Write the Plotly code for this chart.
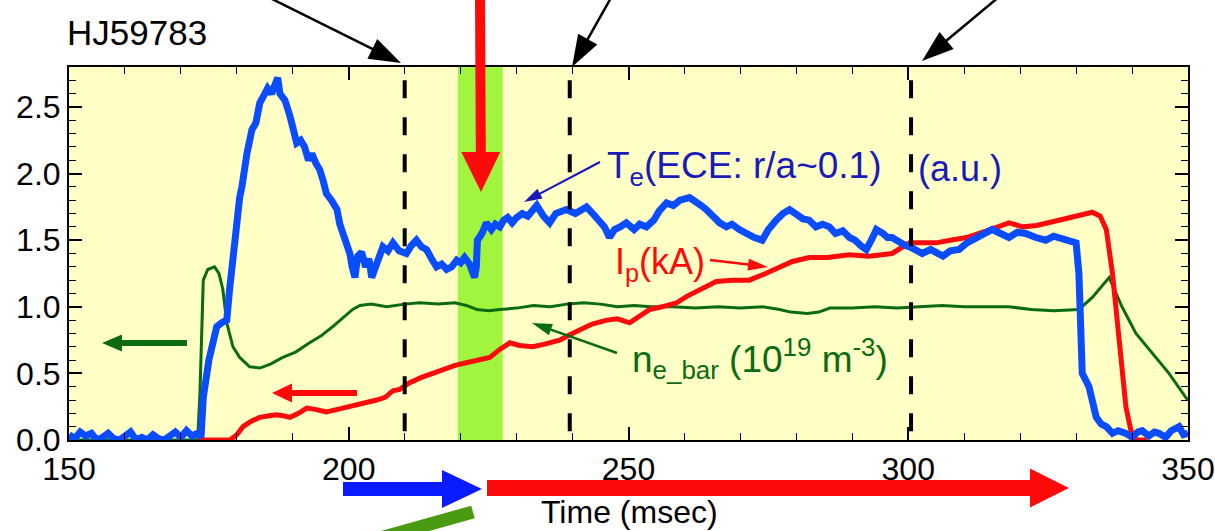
import plotly.graph_objects as go
import math

# ---------------- data ----------------
te_t = [150, 151, 152, 153, 154, 155, 156, 157, 158, 159, 160, 161, 162, 163, 164, 165, 166, 167, 168, 169,
        170, 171, 172, 173, 173.6, 174.0, 175.0, 175.7, 176.4, 177.3, 178.2, 178.7, 179.3, 179.8, 180.5, 180.9,
        181.8, 182.7, 183.4, 184.1, 185.0, 185.5, 186.2, 186.8, 187.3, 187.7, 188.6, 189.5, 190.1, 190.7, 191.4,
        192.1, 192.8, 193.4, 194.1, 194.8, 195.4, 196.0, 196.9, 197.9, 198.4, 199.0, 199.6, 200.2, 200.6, 201.1,
        201.6, 202.3, 203.0, 203.6, 204.1, 205.0, 206.1, 207.0, 207.9, 209.0, 210.3, 211.2, 212.1, 213.0, 213.9,
        214.8, 215.7, 216.6, 217.5, 218.4, 219.3, 220.0, 220.7, 221.6, 222.5, 222.8, 223.0, 223.8, 224.6, 225.5,
        226.2, 227.0, 227.7, 228.4, 229.2, 230.0, 231.0, 232.0, 233.6, 234.8, 235.9, 237.0, 238.9, 240.5, 242.5,
        243.6, 244.8, 245.7, 246.6, 247.5, 248.5, 249.6, 251.0, 252.0, 253.2, 254.5, 255.5, 256.8, 258.0, 259.2,
        260.9, 262.0, 263.0, 263.9, 265.0, 266.3, 267.5, 268.5, 269.8, 271.0, 272.5, 273.9, 275.0, 276.4, 277.6,
        278.8, 280.0, 281.2, 282.3, 283.5, 284.7, 285.9, 287.0, 288.3, 289.5, 290.5, 291.5, 292.5, 293.4, 294.3,
        295.5, 296.3, 297.1, 298.4, 299.5, 300.3, 301.4, 302.5, 304.0, 305.0, 306.2, 307.5, 309.1, 310.5, 312.1,
        313.5, 315.0, 316.5, 318.0, 319.5, 321.0, 322.8, 324.6, 326.0, 327.0, 328.5, 330.0, 330.5, 331.1, 332.3,
        333.0, 333.6, 334.5, 335.4, 336.5, 337.5, 338.9, 340.0, 341.0, 341.8, 343.0, 344.0, 344.8, 346.0, 347.0,
        348.4, 349.2, 350.0]
te_v = [0.04, 0.01, 0.06, 0.03, 0.05, 0.0, 0.02, 0.05, 0.01, 0.0, 0.03, 0.06, 0.0, 0.02, 0.0, 0.04, 0.01, 0.0, 0.03, 0.06,
        0.02, 0.07, 0.03, 0.05, 0.02, 0.32, 0.6, 0.75, 0.85, 0.88, 0.9, 1.13, 1.45, 1.55, 1.82, 1.9,
        2.15, 2.33, 2.38, 2.53, 2.6, 2.64, 2.6, 2.66, 2.72, 2.6, 2.55, 2.43, 2.35, 2.23, 2.25,
        2.2, 2.1, 2.15, 2.08, 2.03, 1.95, 1.85, 1.8, 1.73, 1.62, 1.55, 1.48, 1.4, 1.3, 1.22,
        1.38, 1.41, 1.3, 1.36, 1.22, 1.34, 1.45, 1.42, 1.48, 1.42, 1.4, 1.46, 1.5, 1.45, 1.43,
        1.36, 1.3, 1.32, 1.28, 1.3, 1.35, 1.33, 1.37, 1.32, 1.22, 1.3, 1.5, 1.55, 1.63, 1.58,
        1.62, 1.6, 1.65, 1.67, 1.63, 1.67, 1.7, 1.68, 1.76, 1.68, 1.63, 1.7, 1.73, 1.7, 1.75,
        1.7, 1.65, 1.6, 1.52, 1.58, 1.6, 1.63, 1.58, 1.62, 1.6, 1.65, 1.72, 1.78, 1.76, 1.8,
        1.82, 1.78, 1.76, 1.73, 1.68, 1.63, 1.6, 1.62, 1.58, 1.55, 1.52, 1.5, 1.58, 1.65, 1.7,
        1.73, 1.7, 1.66, 1.65, 1.6, 1.62, 1.6, 1.55, 1.57, 1.52, 1.5, 1.46, 1.43, 1.5, 1.58,
        1.55, 1.52, 1.52, 1.48, 1.46, 1.45, 1.42, 1.4, 1.43, 1.4, 1.38, 1.42, 1.43, 1.48, 1.52,
        1.55, 1.58, 1.55, 1.52, 1.56, 1.55, 1.52, 1.5, 1.53, 1.52, 1.5, 1.48, 1.25, 0.5, 0.4,
        0.3, 0.17, 0.12, 0.1, 0.05, 0.07, 0.05, 0.02, 0.06, 0.07, 0.03, 0.06, 0.05, 0.02, 0.07,
        0.1, 0.04, 0.05]

ip_t = [173.0, 178.8, 180.0, 181.1, 182.5, 184.1, 185.5, 187.1, 188.5, 189.5, 191.0, 192.5, 194.0, 196.0, 198.0,
        200.2, 202.5, 205.0, 206.5, 207.9, 209.1, 210.9, 213.0, 215.0, 217.0, 219.0, 221.0, 223.0, 225.2, 227.0,
        228.8, 230.5, 232.9, 235.0, 237.7, 239.5, 241.3, 243.5, 246.1, 248.0, 250.2, 252.0, 253.8, 256.0, 258.6,
        260.5, 262.7, 265.7, 268.5, 271.6, 274.5, 277.5, 279.3, 282.3, 285.5, 289.5, 293.0, 297.1, 300.2, 303.0,
        305.0, 307.5, 310.4, 314.0, 318.0, 320.5, 322.9, 326.0, 329.0, 332.0, 332.9, 334.3, 335.4, 336.5, 337.7,
        338.9, 339.8, 340.7, 342.7]
ip_v = [0.0, 0.0, 0.04, 0.1, 0.14, 0.17, 0.18, 0.19, 0.18, 0.17, 0.2, 0.24, 0.23, 0.21, 0.23,
        0.25, 0.27, 0.3, 0.32, 0.37, 0.38, 0.43, 0.47, 0.5, 0.53, 0.56, 0.58, 0.6, 0.62, 0.68,
        0.73, 0.71, 0.7, 0.72, 0.75, 0.79, 0.83, 0.87, 0.9, 0.91, 0.88, 0.93, 0.98, 1.0, 1.03,
        1.08, 1.13, 1.19, 1.2, 1.2, 1.25, 1.3, 1.34, 1.37, 1.37, 1.39, 1.38, 1.4, 1.48, 1.48,
        1.48, 1.5, 1.52, 1.57, 1.63, 1.6, 1.61, 1.64, 1.67, 1.7, 1.71, 1.68, 1.58, 1.25, 0.75,
        0.25, 0.07, 0.0, 0.0]

ne_t = [150, 173.0, 173.4, 174.0, 174.8, 176.0, 176.8, 177.5, 178.2, 179.3, 180.5, 182.3, 184.1, 186.0, 188.2,
        190.5, 193.0, 195.0, 197.1, 199.0, 200.7, 202.0, 204.0, 206.8, 210.0, 212.7, 216.0, 219.0, 221.0, 222.9,
        225.0, 227.0, 230.0, 233.0, 236.0, 239.0, 242.0, 245.0, 248.0, 251.0, 254.0, 258.0, 262.0, 266.0, 270.0,
        274.0, 277.0, 279.0, 282.0, 284.0, 286.0, 290.0, 294.0, 298.0, 302.0, 306.0, 310.0, 314.0, 318.0, 322.0,
        326.0, 330.5, 332.9, 335.9, 338.2, 340.7, 343.6, 346.6, 349.6, 350.0]
ne_v = [0.0, 0.0, 0.35, 1.2, 1.28, 1.3, 1.25, 1.13, 0.88, 0.7, 0.62, 0.55, 0.54, 0.57, 0.62,
        0.66, 0.73, 0.78, 0.85, 0.92, 0.98, 1.01, 1.02, 1.0, 1.02, 1.03, 1.02, 1.03, 1.01, 0.98,
        0.97, 0.98, 0.99, 1.01, 1.0, 1.02, 1.03, 1.02, 1.0, 1.01, 1.0, 1.0, 0.99, 1.0, 0.99,
        1.0, 0.98, 0.96, 0.95, 0.96, 0.99, 0.99, 1.0, 0.99, 1.0, 1.01, 1.0, 1.0, 1.0, 0.98,
        0.97, 0.98, 1.07, 1.22, 1.0, 0.8, 0.65, 0.5, 0.32, 0.3]

x_ticks = [150, 200, 250, 300, 350]
y_ticks = [0.0, 0.5, 1.0, 1.5, 2.0, 2.5]
dashed_times = [210, 239.5, 300.5]
band = [219.5, 227.5]

# ---------------- geometry helpers (decorations only) ----------------
W, H = 1215, 531
ML, MR, MT, MB = 69, 27, 67, 91
PW, PH = W - ML - MR, H - MT - MB


def px(xp, yp):
    return (xp - ML) / PW, (H - MB - yp) / PH


def arrow_path(x0, y0, x1, y1, sw, hl, hw):
    dx, dy = x1 - x0, y1 - y0
    L = math.hypot(dx, dy)
    ux, uy = dx / L, dy / L
    nx, ny = -uy, ux
    bx, by = x1 - ux * hl, y1 - uy * hl
    pts = [
        (x0 + nx * sw / 2, y0 + ny * sw / 2),
        (bx + nx * sw / 2, by + ny * sw / 2),
        (bx + nx * hw / 2, by + ny * hw / 2),
        (x1, y1),
        (bx - nx * hw / 2, by - ny * hw / 2),
        (bx - nx * sw / 2, by - ny * sw / 2),
        (x0 - nx * sw / 2, y0 - ny * sw / 2),
    ]
    s = ""
    for i, (a, b) in enumerate(pts):
        pa, pb = px(a, b)
        s += ("M" if i == 0 else "L") + f"{pa:.5f},{pb:.5f}"
    return s + "Z"


BLUE = "#0a4cff"
RED = "#ff0a0a"
GREEN = "#0b6b10"
FONT = "Liberation Sans, Arial, Helvetica, sans-serif"

fig = go.Figure()
fig.add_trace(go.Scatter(x=ne_t, y=ne_v, mode="lines", line=dict(color=GREEN, width=3), hoverinfo="skip"))
fig.add_trace(go.Scatter(x=ip_t, y=ip_v, mode="lines", line=dict(color=RED, width=5), hoverinfo="skip"))
fig.add_trace(go.Scatter(x=te_t, y=te_v, mode="lines", line=dict(color=BLUE, width=7), hoverinfo="skip"))

shapes = []
shapes.append(dict(type="rect", xref="x", yref="paper", x0=band[0], x1=band[1], y0=0, y1=1,
                   fillcolor="#a2f53e", line=dict(width=0), layer="below"))
for t in dashed_times:
    shapes.append(dict(type="line", xref="x", yref="y", x0=t, x1=t, y0=2.70, y1=0,
                       line=dict(color="black", width=4, dash="18px,19px")))

arrows = [
    # (tail, tip, shaft, head_len, head_w, color)
    ((266, -4), (401, 63), 2.5, 32, 22, "black"),
    ((612, -4), (572, 67), 2.5, 32, 22, "black"),
    ((1000, -4), (922, 61), 2.5, 32, 22, "black"),
    ((480, -5), (481, 192), 10, 40, 39, RED),
    ((343, 489), (482, 489), 14, 40, 38, "#0a1cff"),
    ((487, 488), (1069, 488), 16, 39, 39, RED),
    ((187, 343), (102, 343), 6, 20, 17, "#0b6b10"),
    ((357, 393), (272, 393), 6, 20, 19, RED),
    ((600, 162), (524, 202), 2.2, 18, 11, "#1a1ab8"),
    ((710, 260), (768, 267), 2.5, 20, 12, RED),
    ((617, 353), (532, 323), 2.5, 20, 12, "#0b6b10"),
]
for (a, b, sw, hl, hw, c) in arrows:
    shapes.append(dict(type="path", xref="paper", yref="paper",
                       path=arrow_path(a[0], a[1], b[0], b[1], sw, hl, hw),
                       fillcolor=c, line=dict(width=0), layer="above"))
# green bar at bottom (cut off)
g0 = px(355, 545)
g1 = px(473, 512)
shapes.append(dict(type="line", xref="paper", yref="paper", x0=g0[0], y0=g0[1], x1=g1[0], y1=g1[1],
                   line=dict(color="#4a9a12", width=13)))

ann = []


def text(xp, yp, s, size, color, xanchor="left"):
    a, b = px(xp, yp)
    ann.append(dict(xref="paper", yref="paper", x=a, y=b, text=s, showarrow=False,
                    xanchor=xanchor, yanchor="middle", font=dict(family=FONT, size=size, color=color)))


text(65, 33, "HJ59783", 35, "black")
text(605, 168, "T<sub>e</sub>(ECE: r/a~0.1)", 37, "#1a1ab8")
text(916, 168, "(a.u.)", 36, "#1a1ab8")
text(613, 264, "I<sub>p</sub>(kA)", 36, RED)
text(630, 358, "n<sub>e_bar</sub> (10<sup>19</sup> m<sup>-3</sup>)", 37, "#0b6b10")
text(629, 512, "Time (msec)", 32, "black", xanchor="center")

fig.update_layout(
    width=W, height=H,
    margin=dict(l=ML, r=MR, t=MT, b=MB, autoexpand=False),
    paper_bgcolor="white", plot_bgcolor="#ffffc6",
    showlegend=False, shapes=shapes, annotations=ann,
    font=dict(family=FONT, size=31, color="black"),
)
fig.update_xaxes(range=[150, 350], tickvals=x_ticks, ticks="inside", ticklen=13, tickwidth=1.5,
                 tickcolor="black", showline=True, linecolor="black", linewidth=2, mirror="ticks",
                 showgrid=False, zeroline=False, automargin=False,
                 minor=dict(dtick=10, ticks="inside", ticklen=7, tickcolor="black", tickwidth=1.2),
                 tickfont=dict(family=FONT, size=32, color="black"))
fig.update_yaxes(range=[0, 2.8], tickvals=y_ticks, tickformat=".1f", ticks="inside", ticklen=13, tickwidth=1.5,
                 tickcolor="black", showline=True, linecolor="black", linewidth=2, mirror="ticks",
                 showgrid=False, zeroline=False, automargin=False,
                 minor=dict(dtick=0.1, ticks="inside", ticklen=7, tickcolor="black", tickwidth=1.2),
                 tickfont=dict(family=FONT, size=32, color="black"))

fig.write_html("out.html", config={"displayModeBar": False},
               post_script="document.body.style.margin='0';document.body.style.padding='0';"
                           "document.body.style.overflow='hidden';")
